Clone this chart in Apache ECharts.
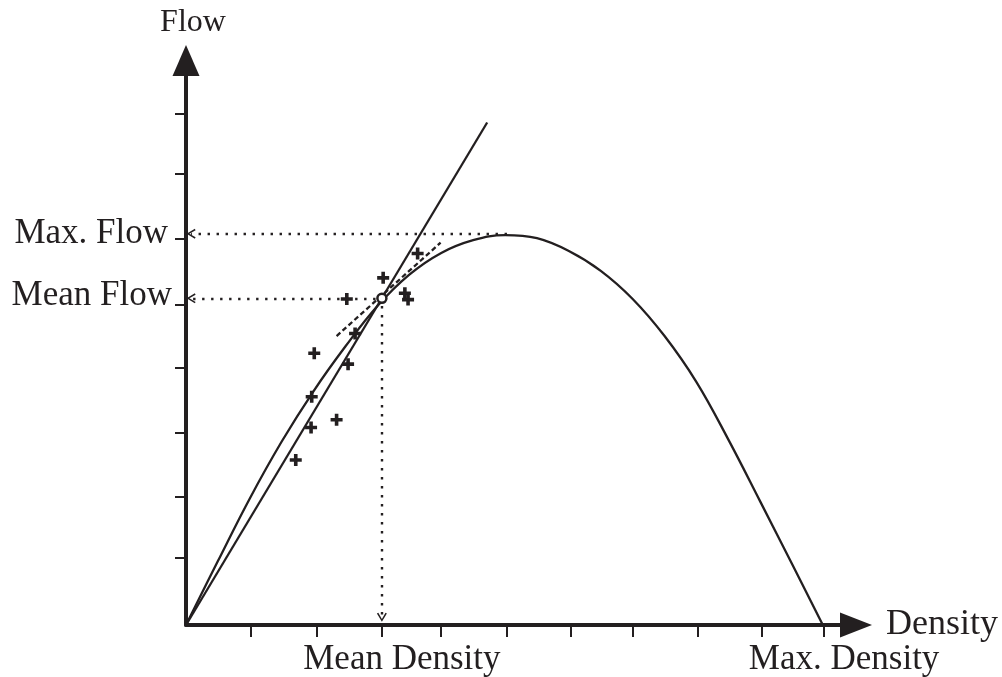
<!DOCTYPE html>
<html><head><meta charset="utf-8">
<script src="https://cdn.jsdelivr.net/npm/echarts@6/dist/echarts.min.js"></script>
<style>html,body{margin:0;padding:0;background:#fff}#c{width:1002px;height:677px}</style>
</head><body><div id="c"></div>
<script>
// Flow–density curve
const curveDensity = [0, 0.5, 1.0, 1.5, 2.0, 2.5, 3.0, 3.5, 4.0, 4.5, 5.0, 5.5, 6.0, 6.5, 7.0, 7.5, 8.0, 8.5, 9.0, 9.5, 9.98];
const curveFlow    = [0, 1.0, 1.98, 2.87, 3.66, 4.36, 4.99, 5.48, 5.82, 6.02, 6.1, 6.05, 5.85, 5.54, 5.1, 4.52, 3.8, 2.9, 1.93, 0.95, 0];
// observations (+)
const obsDensity = [1.72, 1.96, 1.97, 2.01, 2.36, 2.54, 2.65, 2.52, 3.09, 3.43, 3.48, 3.63];
const obsFlow    = [2.58, 3.09, 3.57, 4.25, 3.21, 4.08, 4.56, 5.10, 5.43, 5.19, 5.09, 5.81];
// key values
const meanDensity = 3.07, meanFlow = 5.11;
const maxFlowDensity = 5.03, maxFlow = 6.12, maxDensity = 10;
// straight line from origin through mean point
const rayDensity = [0, 4.72];
const rayFlow = [0, 7.86];
// tangent (dashed)
const tanDensity = [2.36, 3.99];
const tanFlow = [4.52, 5.98];
// tick positions
const xTicks = [1.02, 2.05, 3.07, 4.0, 5.03, 6.03, 7.0, 8.02, 9.03, 10.0];
const yTicks = [1.05, 2.0, 3.0, 4.02, 5.01, 6.04, 7.06, 8.0];
const xLabelNames = {'3.07': 'Mean Density', '10': 'Max. Density'};
const yLabelNames = {'5.11': 'Mean Flow', '6.12': 'Max. Flow'};

const INK = '#231f20';
const FONT = 'Liberation Serif';
const crossPath = 'path://M4.2,0 H7.8 V4.2 H12 V7.8 H7.8 V12 H4.2 V7.8 H0 V4.2 H4.2 Z';
const chevron = 'path://M0,8.5 L5,0 L10,8.5 L8.6,9.3 L5,2.9 L1.4,9.3 Z';

const zip = (a, b) => a.map((v, i) => [v, b[i]]);

const chart = echarts.init(document.getElementById('c'), null, {renderer: 'canvas'});
chart.setOption({
  animation: false,
  backgroundColor: '#fff',
  grid: {left: 186, top: 60.5, right: 146, bottom: 52, containLabel: false, outerBoundsMode: 'none'},
  xAxis: {
    type: 'value', min: 0, max: 10.5,
    splitLine: {show: false},
    axisLine: {lineStyle: {color: INK, width: 4}, symbol: ['none', 'triangle'], symbolSize: [25, 32]},
    axisTick: {show: true, customValues: xTicks, length: 12, lineStyle: {color: INK, width: 2}},
    axisLabel: {
      customValues: [meanDensity, maxDensity],
      formatter: v => xLabelNames[String(v)] || '',
      fontFamily: FONT, fontSize: 35, color: INK, margin: 17,
      padding: [0, 0, 0, 40], hideOverlap: false
    },
    name: 'Density', nameLocation: 'end', nameGap: 30, nameMoveOverlap: false,
    nameTextStyle: {fontFamily: FONT, fontSize: 36, color: INK}
  },
  yAxis: {
    type: 'value', min: 0, max: 8.83,
    splitLine: {show: false},
    axisLine: {lineStyle: {color: INK, width: 4}, symbol: ['none', 'triangle'], symbolSize: [27, 31]},
    axisTick: {show: true, customValues: yTicks, length: 11, lineStyle: {color: INK, width: 2}},
    axisLabel: {
      customValues: [meanFlow, maxFlow],
      formatter: v => {
        const n = yLabelNames[String(v)] || '';
        return n === 'Mean Flow' ? '{m|' + n + '}' : '{x|' + n + '}';
      },
      rich: {
        m: {fontFamily: FONT, fontSize: 35, color: INK, padding: [0, 0, 6, 0]},
        x: {fontFamily: FONT, fontSize: 35, color: INK, padding: [0, 4, 0, 0]}
      },
      fontFamily: FONT, fontSize: 35, color: INK, margin: 14, hideOverlap: false
    },
    name: 'Flow', nameLocation: 'end', nameGap: 22, nameMoveOverlap: false,
    nameTextStyle: {fontFamily: FONT, fontSize: 32, color: INK, padding: [0, 0, 0, 14]}
  },
  series: [
    {
      type: 'line', data: zip(curveDensity, curveFlow), smooth: 0.4, symbol: 'none',
      lineStyle: {color: INK, width: 2.3}, z: 3
    },
    {
      type: 'line', data: zip(rayDensity, rayFlow), symbol: 'none',
      lineStyle: {color: INK, width: 2.3}, z: 3
    },
    {
      type: 'line', data: zip(tanDensity, tanFlow), symbol: 'none',
      lineStyle: {color: INK, width: 2.3, type: [5, 3]}, z: 3
    },
    {
      type: 'scatter', data: zip(obsDensity, obsFlow), symbol: crossPath, symbolSize: 12,
      itemStyle: {color: INK, opacity: 1}, z: 5
    },
    {
      type: 'scatter', data: [[meanDensity, meanFlow]], symbol: 'circle', symbolSize: 9,
      itemStyle: {color: '#fff', borderColor: INK, borderWidth: 2.5, opacity: 1}, z: 6,
      markLine: {
        silent: true, symbol: ['none', chevron], symbolSize: [10, 9],
        label: {show: false},
        lineStyle: {color: INK, width: 2.4, type: [2.4, 6.6], opacity: 1},
        data: [
          [{coord: [maxFlowDensity, maxFlow]}, {coord: [0.08, maxFlow]}],
          [{coord: [meanDensity - 0.1, meanFlow]}, {coord: [0.08, meanFlow]}],
          [{coord: [meanDensity, meanFlow - 0.12]}, {coord: [meanDensity, 0.12]}]
        ]
      }
    }
  ]
});
</script></body></html>
